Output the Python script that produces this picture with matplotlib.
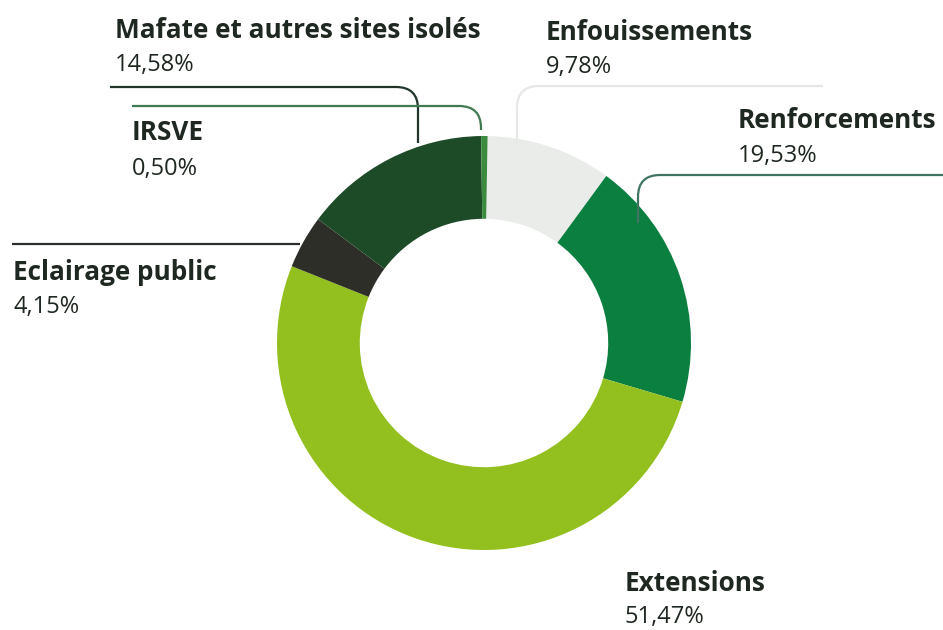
import matplotlib
matplotlib.use("Agg")
import matplotlib.pyplot as plt
from matplotlib.path import Path
from matplotlib.patches import PathPatch

W, H = 943, 630

# data, clockwise from 12 o'clock
labels = ["Enfouissements", "Renforcements", "Extensions",
          "Eclairage public", "Mafate et autres sites isolés", "IRSVE"]
values = [9.78, 19.53, 51.47, 4.15, 14.58, 0.50]
colors = ["#e9ece9", "#0b7f40", "#93c01f", "#2c2e27", "#1e4b27", "#3b8a3d"]

# label anchor (x, name baseline, pct baseline) in image pixels
label_pos = [(546, 40, 73), (738, 128, 162), (625, 591, 623),
             (13, 280, 313), (115, 38, 71), (132, 140, 175)]
# leader lines: horizontal end x, horizontal y, vertical x, vertical end y, line colour
leaders = [
    (823, 86, 517, 143, "#e6e8e6"),
    (943, 175, 638, 223, "#3f7460"),
    None,
    (12, 244, 300, None, "#2b2f2b"),
    (110, 87, 418, 143, "#22352a"),
    (132, 106, 481, 130, "#3f7a50"),
]

plt.rcParams['font.family'] = ['Open Sans', 'DejaVu Sans']

fig = plt.figure(figsize=(W / 100, H / 100), dpi=100)
ax = fig.add_axes([0, 0, 1, 1])

cx, cy, r = 484, H - 343, 207
ax.pie(values, colors=colors, startangle=89, counterclock=False,
       center=(cx, cy), radius=r, frame=True,
       wedgeprops=dict(width=r * 0.40, linewidth=0))
ax.set_xlim(0, W)
ax.set_ylim(0, H)
ax.set_aspect("equal")
ax.axis("off")


def leader(hx, hy, vx, vy, col):
    if vy is None:
        ax.plot([hx, vx], [H - hy, H - hy], color=col, lw=1.6, solid_capstyle="butt")
        return
    rad = 22
    sgn = 1 if vx > hx else -1
    verts = [(hx, H - hy), (vx - sgn * rad, H - hy), (vx, H - hy),
             (vx, H - hy - rad if vy > hy else H - hy + rad), (vx, H - vy)]
    codes = [Path.MOVETO, Path.LINETO, Path.CURVE3, Path.CURVE3, Path.LINETO]
    ax.add_patch(PathPatch(Path(verts, codes), fill=False, edgecolor=col, lw=1.6))


for lab, v, (x, yn, yp), ld in zip(labels, values, label_pos, leaders):
    if ld is not None:
        leader(*ld)
    ax.text(x, H - yn, lab, fontsize=18.8, fontweight="bold", color="#1f2820",
            ha="left", va="baseline")
    ax.text(x, H - yp, f"{v:.2f}%".replace(".", ","), fontsize=17,
            color="#1f2820", ha="left", va="baseline")

fig.savefig("out.png", dpi=100, facecolor="white")
